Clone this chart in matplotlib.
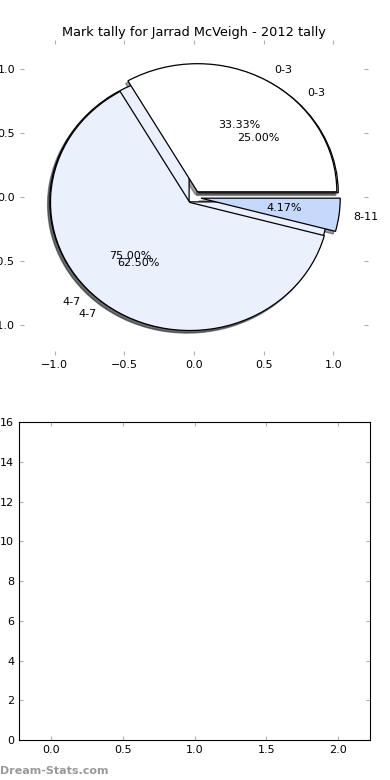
import matplotlib
matplotlib.use('Agg')
import matplotlib.pyplot as plt

# tally data
labels_a = ['0-3', '4-7']
values_a = [25.0, 75.0]
labels_b = ['0-3', '4-7', '8-11']
values_b = [33.33, 62.50, 4.17]

colors_a = ['#ffffff', '#eaf1fd']
colors_b = ['#ffffff', '#eaf1fd', '#c6d9fd']

pie_ticks = [-1.0, -0.5, 0.0, 0.5, 1.0]
bar_xticks = [0.0, 0.5, 1.0, 1.5, 2.0]
bar_yticks = [0, 2, 4, 6, 8, 10, 12, 14, 16]

plt.rcParams['font.family'] = ['DejaVu Sans']
plt.rcParams['font.size'] = 8

fig = plt.figure(figsize=(3.9, 7.8), dpi=100)
ax = fig.add_axes([0.051, 0.545, 0.893, 0.404])
ax2 = fig.add_axes([0.049, 0.051, 0.900, 0.408])

wp = dict(edgecolor='black', linewidth=0.9)
for vals, labs, cols in [(values_a, labels_a, colors_a), (values_b, labels_b, colors_b)]:
    ax.pie(vals, labels=labs, colors=cols, explode=[0.05] * len(vals),
           autopct='%1.2f%%', shadow={'ox': -0.012, 'oy': -0.015, 'shade': 0.75},
           wedgeprops=wp, frame=True, textprops={'fontsize': 8})

ax.set_aspect('auto')
ax.set_xlim(-1.25, 1.25)
ax.set_ylim(-1.23, 1.23)
ax.set_xticks(pie_ticks)
ax.set_yticks(pie_ticks)
for s in ax.spines.values():
    s.set_visible(False)
ax.tick_params(direction='in', length=3, color='#b0b0b0', top=True, right=True, labelsize=8)
ax.set_title('Mark tally for Jarrad McVeigh - 2012 tally', fontsize=9.3, pad=3)

ax2.set_xlim(-0.225, 2.225)
ax2.set_ylim(0, 16)
ax2.set_xticks(bar_xticks)
ax2.set_yticks(bar_yticks)
ax2.tick_params(direction='in', length=3, color='#b0b0b0', top=True, right=True, labelsize=8)

fig.text(0.0, 0.008, 'Dream-Stats.com', color='#999999', fontsize=8, fontweight='bold')

fig.savefig('out.png', dpi=100)
